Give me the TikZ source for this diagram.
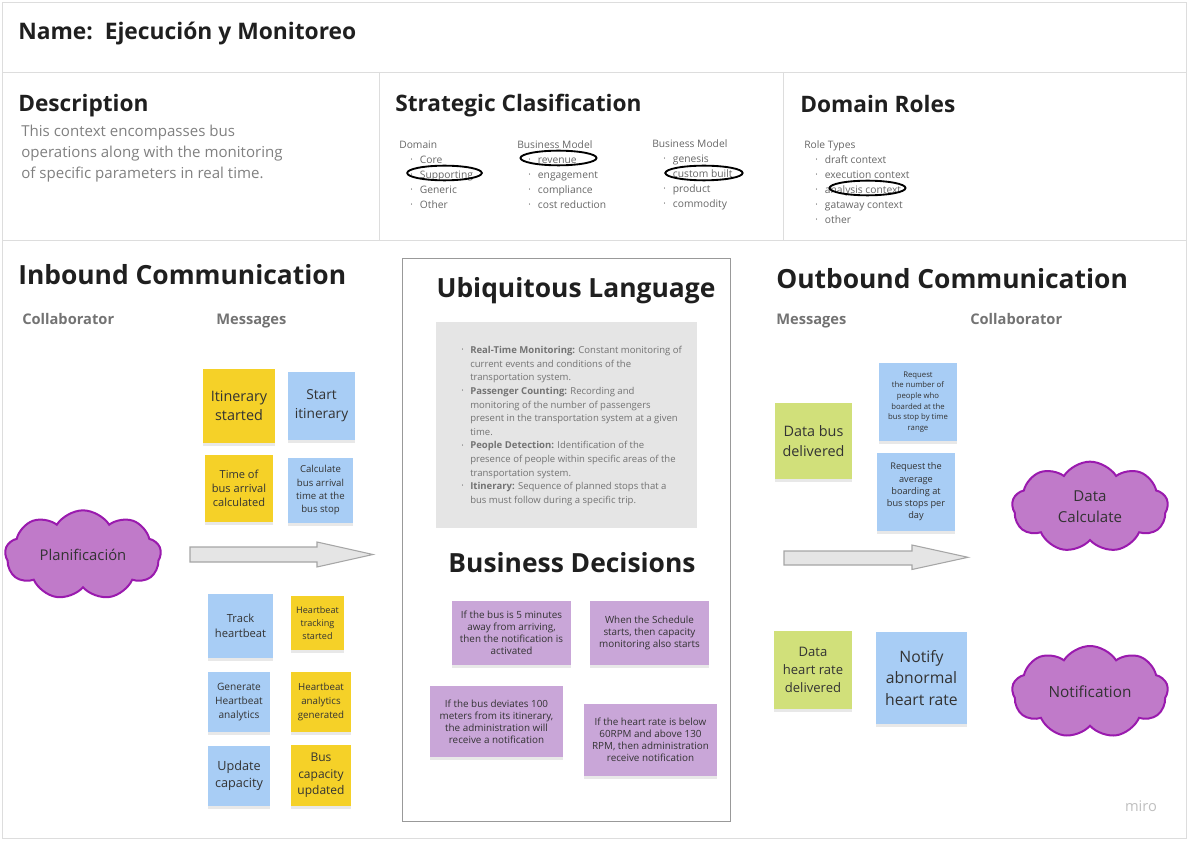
\documentclass[tikz,border=0pt]{standalone}
\usepackage{fontspec}
\setmainfont{Open Sans}
\usetikzlibrary{shapes.symbols,shadows}

\definecolor{stYellow}{HTML}{F5D128}
\definecolor{stBlue}{HTML}{A8CDF5}
\definecolor{stGreen}{HTML}{D1E07A}
\definecolor{stPurple}{HTML}{C9A6D8}
\definecolor{cloudFill}{HTML}{C07AC9}
\definecolor{cloudLine}{HTML}{9A1AAE}
\definecolor{ink}{HTML}{333333}
\definecolor{softgray}{HTML}{808080}
\definecolor{frameline}{HTML}{DDDDDD}

\newcommand\itm[1]{\hspace*{8.5pt}\makebox[7pt][l]{\raisebox{1.3pt}{\fontsize{4}{4}\selectfont\textbullet}}#1}
\newcommand\gbul{\llap{\raisebox{1.3pt}{\fontsize{4}{4}\selectfont\textbullet}\hspace{5pt}}}

\begin{document}
\begin{tikzpicture}[x=0.75pt,y=-0.75pt,
  wh/.style 2 args={minimum width=#1*0.75pt, minimum height=#2*0.75pt},
  px font/.style 2 args={font=\fontsize{#1}{#2}\selectfont},
  sticky/.style={rectangle, inner sep=1pt, align=center, text=ink, drop shadow={shadow xshift=0pt,shadow yshift=-2.2pt,opacity=0.18}},
  yellow note/.style={sticky, fill=stYellow},
  blue note/.style={sticky, fill=stBlue},
  green note/.style={sticky, fill=stGreen},
  rule note/.style={sticky, fill=stPurple, px font={7.4}{9}, wh={119}{64}},
  title/.style={anchor=west, inner sep=0pt, text=black!88, font=\bfseries\fontsize{17.1}{21}\selectfont},
  head/.style={anchor=west, inner sep=0pt, text=black!88, font=\bfseries\fontsize{17}{21}\selectfont},
  big head/.style={inner sep=0pt, text=black!88, font=\bfseries\fontsize{19.8}{24}\selectfont},
  sub head/.style={anchor=west, inner sep=0pt, text=black!55, font=\bfseries\fontsize{11}{13}\selectfont},
  class list/.style={anchor=west, inner sep=0pt, align=left, text=black!60, px font={7.7}{11.25}},
  mark ring/.style={draw=black, line width=1.4pt},
  collab/.style={cloud, cloud puffs=9, cloud puff arc=115, cloud ignores aspect, fill=cloudFill, draw=cloudLine, line width=1.5pt, text=ink, align=center, inner sep=0pt},
  flow/.style={fill=black!10, draw=black!35, line width=0.8pt, line join=miter}]

  \useasboundingbox (0,0) rectangle (1188,841);

  % frame
  \draw[frameline] (2,2) rectangle (1186,838);
  \draw[frameline] (2,72) -- (1186,72);
  \draw[frameline] (2,240) -- (1186,240);
  \draw[frameline] (379,72) -- (379,240);
  \draw[frameline] (783,72) -- (783,240);

  \node[title] (name) at (18,34) {Name:\ \ Ejecución y Monitoreo};

  \node[head] (desc) at (18,106) {Description};
  \node[anchor=west, inner sep=0pt, align=left, text=softgray, px font={11.3}{15.75}] (desctext) at (21,154)
    {This context encompasses bus\\operations along with the monitoring\\of specific parameters in real time.};

  \node[head] (strat) at (395,106) {Strategic Clasification};
  \node[class list] (domain) at (399,174.5) {Domain\\\itm{Core}\\\itm{Supporting}\\\itm{Generic}\\\itm{Other}};
  \node[class list] (bmodel) at (517,174.5) {Business Model\\\itm{revenue}\\\itm{engagement}\\\itm{compliance}\\\itm{cost reduction}};
  \node[class list] (bmodeltwo) at (652,174.5) {Business Model\\\itm{genesis}\\\itm{custom built}\\\itm{product}\\\itm{commodity}};

  \node[head] (roles) at (800,104) {Domain Roles};
  \node[class list] (roletypes) at (804,182) {Role Types\\\itm{draft context}\\\itm{execution context}\\\itm{analysis context}\\\itm{gataway context}\\\itm{other}};

  % hand drawn marks
  \draw[mark ring] (444.5,173) ellipse [x radius=28pt, y radius=5.5pt];
  \draw[mark ring] (558.5,158) ellipse [x radius=28.5pt, y radius=5.5pt];
  \draw[mark ring] (704,173) ellipse [x radius=29pt, y radius=5.5pt];
  \draw[mark ring] (867.5,188) ellipse [x radius=28.5pt, y radius=5.5pt];

  % inbound
  \node[big head, anchor=west] (inbound) at (18,275) {Inbound Communication};
  \node[sub head] (collabin) at (22,319) {Collaborator};
  \node[sub head] (msgin) at (216,321) {Messages};

  \node[collab, minimum width=117pt, minimum height=67pt, px font={11.1}{13}] (plan) at (83,555) {Planificación};
  \draw[flow] (190,547) -- (317,547) -- (317,542) -- (373,554.5) -- (317,567) -- (317,562) -- (190,562) -- cycle;

  \node[yellow note, wh={72}{74}, px font={10.8}{14.3}] (itstarted) at (239,406) {Itinerary\\started};
  \node[blue note, wh={67}{68}, px font={10.3}{14}] (startit) at (321.5,406) {Start\\itinerary};
  \node[yellow note, wh={68}{67}, px font={8.3}{10.5}] (timebus) at (239,488.5) {Time of\\bus arrival\\calculated};
  \node[blue note, wh={65}{65}, px font={7.2}{10}] (calcbus) at (320.5,490.5) {Calculate\\bus arrival\\time at the\\bus stop};
  \node[blue note, wh={65}{64}, px font={8.4}{11.5}] (track) at (240.5,626) {Track\\heartbeat};
  \node[yellow note, wh={53}{54}, px font={6.8}{9.6}] (hbtrack) at (317.5,623) {Heartbeat\\tracking\\started};
  \node[blue note, wh={62}{60}, px font={7.6}{10.5}] (genhb) at (239,702) {Generate\\Heartbeat\\analytics};
  \node[yellow note, wh={60}{60}, px font={7.3}{10.5}] (hbgen) at (321,702) {Heartbeat\\analytics\\generated};
  \node[blue note, wh={62}{60}, px font={9.5}{12.5}] (updcap) at (239,776) {Update\\capacity};
  \node[yellow note, wh={60}{61}, px font={9}{12.3}] (buscap) at (321,775.5) {Bus\\capacity\\updated};

  % ubiquitous language
  \draw[black!40, fill=white] (402,258) rectangle (730,821);
  \fill[black!10] (436,322) rectangle (697,528);
  \node[big head] (ubiq) at (576,291) {Ubiquitous Language};
  \node[anchor=west, inner sep=0pt, align=left, text=black!55, px font={7.15}{10.2}] (glossary) at (470,426)
    {\gbul\textbf{Real-Time Monitoring:} Constant monitoring of\\
     current events and conditions of the\\
     transportation system.\\
     \gbul\textbf{Passenger Counting:} Recording and\\
     monitoring of the number of passengers\\
     present in the transportation system at a given\\
     time.\\
     \gbul\textbf{People Detection:} Identification of the\\
     presence of people within specific areas of the\\
     transportation system.\\
     \gbul\textbf{Itinerary:} Sequence of planned stops that a\\
     bus must follow during a specific trip.};

  \node[big head] (decisions) at (572,563) {Business Decisions};
  \node[rule note] (rulea) at (511.5,633) {If the bus is 5 minutes\\away from arriving,\\then the notification is\\activated};
  \node[rule note] (ruleb) at (649.5,633) {When the Schedule\\starts, then capacity\\monitoring also starts};
  \node[rule note, wh={133}{71}] (rulec) at (496.5,721.5) {If the bus deviates 100\\meters from its itinerary,\\the administration will\\receive a notification};
  \node[rule note, wh={133}{72}] (ruled) at (650.5,740) {If the heart rate is below\\60RPM and above 130\\RPM, then administration\\receive notification};

  % outbound
  \node[big head, anchor=west] (outbound) at (776,279) {Outbound Communication};
  \node[sub head] (msgout) at (776,321) {Messages};
  \node[sub head] (collabout) at (970,319) {Collaborator};

  \node[green note, wh={77}{76}, px font={10.8}{14.5}] (databus) at (813.5,441) {Data bus\\delivered};
  \node[blue note, wh={78}{78}, px font={5.8}{8}] (reqnum) at (918,402) {Request\\the number of\\people who\\boarded at the\\bus stop by time\\range};
  \node[blue note, wh={78}{78}, px font={6.9}{9.2}] (reqavg) at (916,492) {Request the\\average\\boarding at\\bus stops per\\day};
  \node[green note, wh={78}{78}, px font={9.8}{13.5}] (datahr) at (813,670) {Data\\heart rate\\delivered};
  \node[blue note, wh={91}{92}, px font={11.8}{15.8}] (notify) at (921.5,678) {Notify\\abnormal\\heart rate};

  \draw[flow] (784,551) -- (912,551) -- (912,545) -- (968,557.3) -- (912,569.5) -- (912,565) -- (784,565) -- cycle;

  \node[collab, minimum width=117pt, minimum height=68pt, px font={11.3}{15.5}] (datacalc) at (1090,507) {Data\\Calculate};
  \node[collab, minimum width=117pt, minimum height=69pt, px font={11.5}{13}] (notif) at (1090,692) {Notification};

  \node[inner sep=0pt, text=black!25, px font={11}{13}] (brand) at (1141,806) {miro};
\end{tikzpicture}
\end{document}
